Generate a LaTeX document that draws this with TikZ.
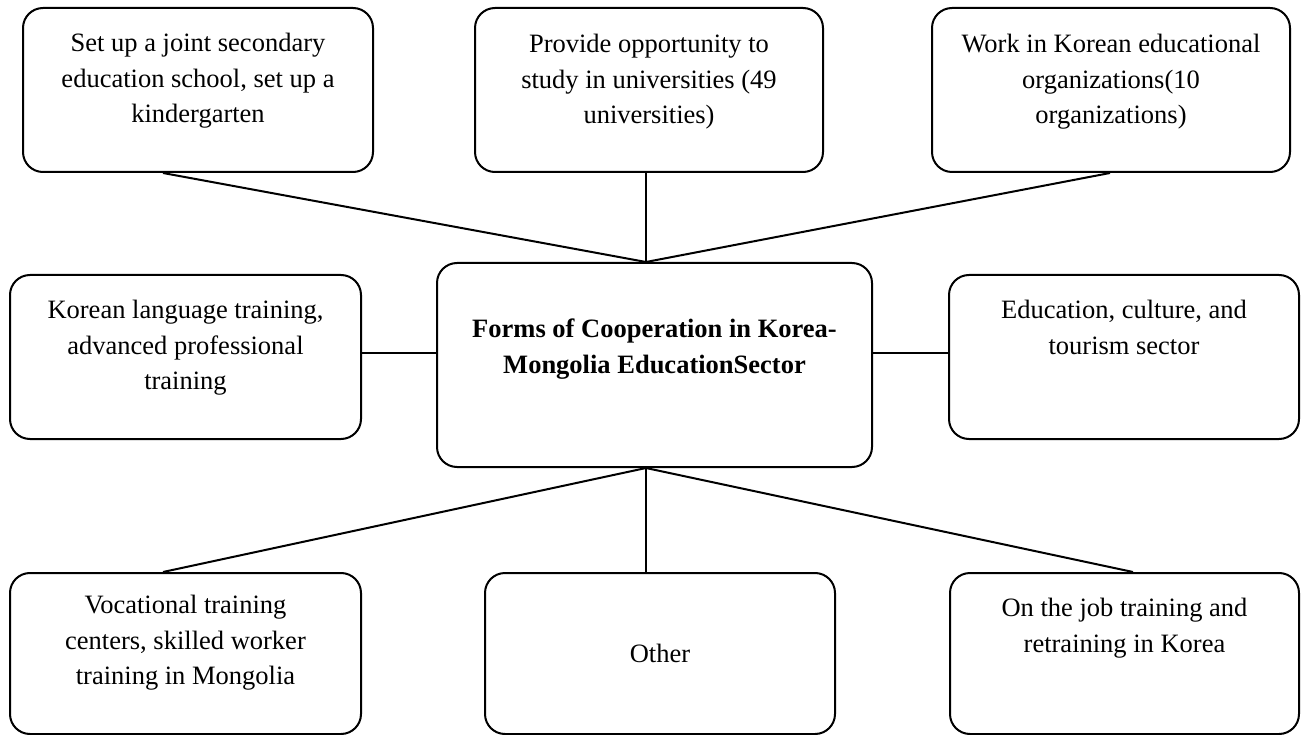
\documentclass[tikz,border=0pt]{standalone}
\usepackage{fontspec}
\setmainfont{Liberation Serif}
\usetikzlibrary{positioning}

\begin{document}
\begin{tikzpicture}[x=1pt,y=-1pt,
    box/.style={draw,line width=2pt,rounded corners=20pt,
        minimum width=350pt,minimum height=164pt,inner sep=0pt},
    txt/.style={align=center,inner sep=0pt,
        font=\fontsize{26.5}{35.5}\selectfont},
    link/.style={line width=2pt}]
    \useasboundingbox (0,0) rectangle (1304,735);
    % outer boxes
    \node[box] (tl) at (198,90) {};
    \node[box,minimum width=348pt] (tc) at (649,90) {};
    \node[box,minimum width=358pt] (tr) at (1111,90) {};
    \node[box,minimum width=351pt] (ml) at (185.5,357) {};
    \node[box] (mr) at (1124,357) {};
    \node[box,minimum width=351pt,minimum height=161pt] (bl) at (185.5,653.5) {};
    \node[box,minimum height=161pt] (bc) at (660,653.5) {};
    \node[box,minimum width=349pt,minimum height=161pt] (br) at (1124.5,653.5) {};
    % centre box
    \node[box,minimum width=435pt,minimum height=204pt] (c) at (654.5,365) {};
    \coordinate (c-top) at ([xshift=-8.5pt]c.north);
    \coordinate (c-bot) at ([xshift=-8.5pt]c.south);

    \node[txt,below=26pt of tl.north] (tl-t) {Set up a joint secondary\\education school, set up a\\kindergarten};
    \node[txt,below=27pt of tc.north] (tc-t) {Provide opportunity to\\study in universities (49\\universities)};
    \node[txt,below=27pt of tr.north] (tr-t) {Work in Korean educational\\organizations(10\\organizations)};
    \node[txt,below=26pt of ml.north] (ml-t) {Korean language training,\\advanced professional\\training};
    \node[txt,below=26pt of mr.north] (mr-t) {Education, culture, and\\tourism sector};
    \node[txt,below=23pt of bl.north] (bl-t) {Vocational training\\centers, skilled worker\\training in Mongolia};
    \node[txt,below=26pt of br.north] (br-t) {On the job training and\\retraining in Korea};
    \node[txt] (bc-t) at (bc) {Other};
    \node[txt,font=\fontsize{26.5}{35.5}\selectfont\bfseries,below=57pt of c.north] (c-t)
        {Forms of Cooperation in Korea-\\Mongolia EducationSector};

    % connectors
    \draw[link] ([xshift=-35pt]tl.south) -- (c-top);
    \draw[link] ([xshift=-3pt]tc.south) -- (c-top);
    \draw[link] ([xshift=-1pt]tr.south) -- (c-top);
    \draw[link] ([yshift=4pt]ml.east) -- ([yshift=4pt]ml.east -| c.west);
    \draw[link] ([yshift=4pt]mr.west) -- ([yshift=4pt]mr.west -| c.east);
    \draw[link] (c-bot) -- ([xshift=-22.5pt]bl.north);
    \draw[link] (c-bot) -- ([xshift=-14pt]bc.north);
    \draw[link] (c-bot) -- ([xshift=8.5pt]br.north);
\end{tikzpicture}
\end{document}
